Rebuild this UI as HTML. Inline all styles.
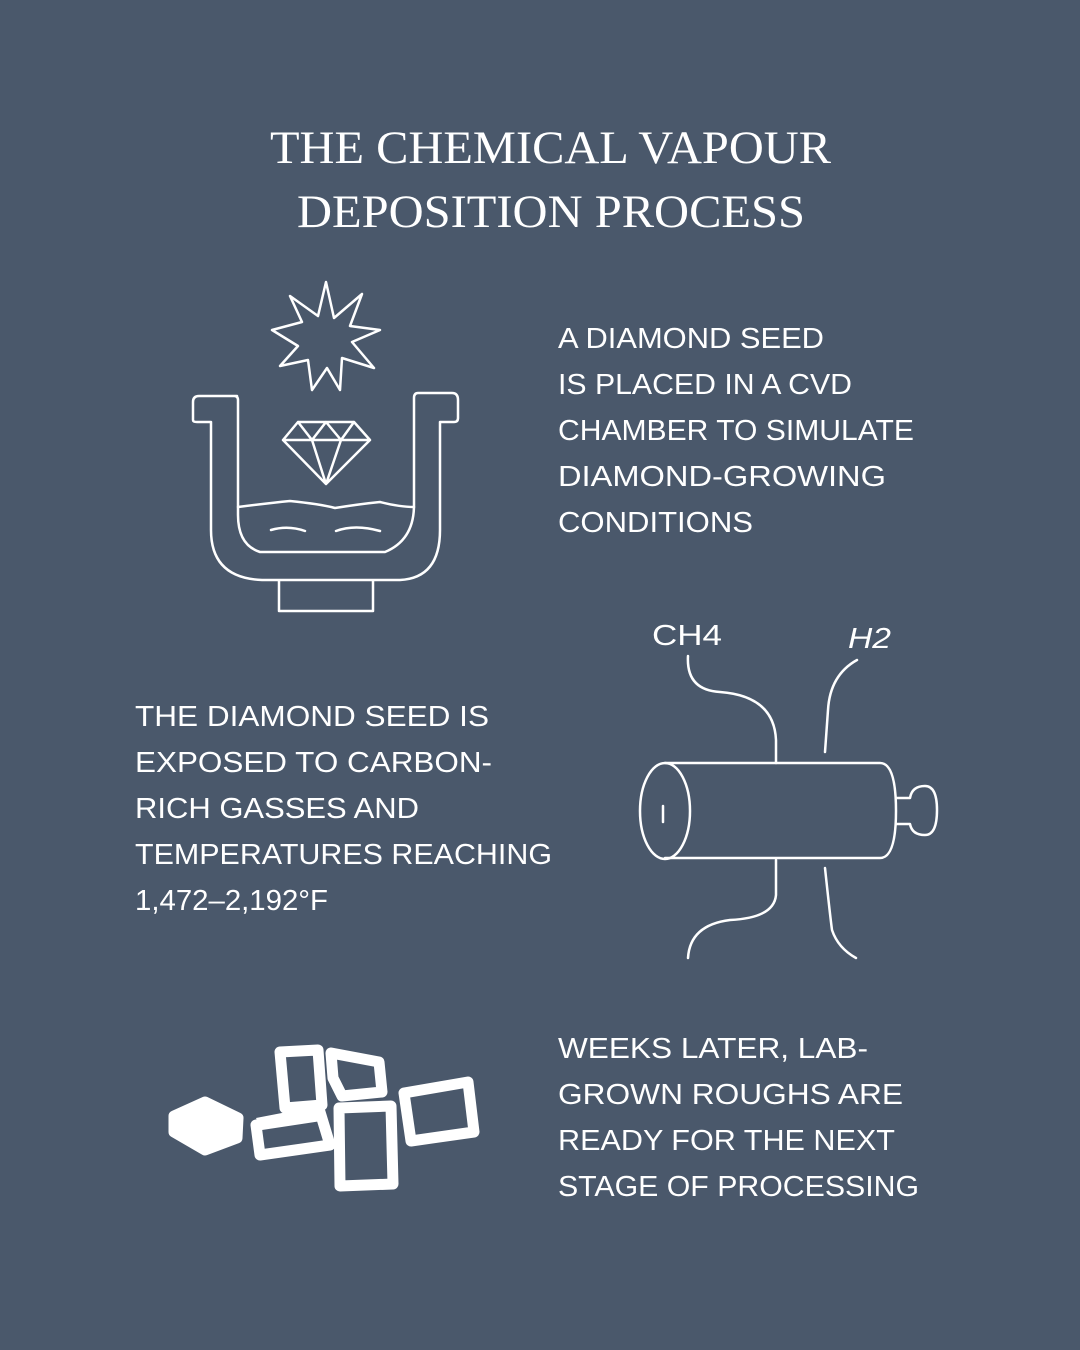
<!DOCTYPE html>
<html><head><meta charset="utf-8"><style>
html,body{margin:0;padding:0;background:#4a586b;}
svg{display:block}
</style></head><body>
<svg width="1080" height="1350" viewBox="0 0 1080 1350" xmlns="http://www.w3.org/2000/svg">
<rect width="1080" height="1350" fill="#4a586b"/>
<g fill="#fff" font-family="Liberation Serif, serif" font-size="47">
<text x="270" y="163" textLength="561" lengthAdjust="spacingAndGlyphs">THE CHEMICAL VAPOUR</text>
<text x="297" y="227" textLength="508" lengthAdjust="spacingAndGlyphs">DEPOSITION PROCESS</text>
</g>
<g fill="#fff" font-family="Liberation Sans, sans-serif" font-size="29">
<text x="558" y="348" textLength="266" lengthAdjust="spacingAndGlyphs">A DIAMOND SEED</text>
<text x="558" y="394" textLength="294" lengthAdjust="spacingAndGlyphs">IS PLACED IN A CVD</text>
<text x="558" y="440" textLength="356" lengthAdjust="spacingAndGlyphs">CHAMBER TO SIMULATE</text>
<text x="558" y="486" textLength="328" lengthAdjust="spacingAndGlyphs">DIAMOND-GROWING</text>
<text x="558" y="532" textLength="195" lengthAdjust="spacingAndGlyphs">CONDITIONS</text>
<text x="135" y="726" textLength="354" lengthAdjust="spacingAndGlyphs">THE DIAMOND SEED IS</text>
<text x="135" y="772" textLength="357" lengthAdjust="spacingAndGlyphs">EXPOSED TO CARBON-</text>
<text x="135" y="818" textLength="284" lengthAdjust="spacingAndGlyphs">RICH GASSES AND</text>
<text x="135" y="864" textLength="417" lengthAdjust="spacingAndGlyphs">TEMPERATURES REACHING</text>
<text x="135" y="910" textLength="193" lengthAdjust="spacingAndGlyphs">1,472–2,192°F</text>
<text x="558" y="1058" textLength="310" lengthAdjust="spacingAndGlyphs">WEEKS LATER, LAB-</text>
<text x="558" y="1104" textLength="345" lengthAdjust="spacingAndGlyphs">GROWN ROUGHS ARE</text>
<text x="558" y="1150" textLength="337" lengthAdjust="spacingAndGlyphs">READY FOR THE NEXT</text>
<text x="558" y="1196" textLength="361" lengthAdjust="spacingAndGlyphs">STAGE OF PROCESSING</text>
<text x="652" y="645" textLength="70" lengthAdjust="spacingAndGlyphs">CH4</text>
<text x="848" y="648" font-style="italic" textLength="43" lengthAdjust="spacingAndGlyphs">H2</text>
</g>
<g fill="none" stroke="#fff" stroke-width="2.5" stroke-linejoin="round" stroke-linecap="round">
<!-- star -->
<path d="M326,282 L334,318 L362,294 L350,326 L380,330 L352,342 L374,368 L342,358 L340,390 L327,368 L312,390 L308,360 L280,366 L298,346 L272,330 L302,322 L290,296 L318,316 Z"/>
<!-- diamond -->
<path d="M283,440 L298,422 L354,422 L370,440 L326,484 Z M283,440 L370,440 M298,422 L312,440 L326,422 L341,440 L354,422 M312,440 L326,484 L341,440"/>
<!-- chamber -->
<path d="M237,396 L199,396 Q193,396 193,402 L193,420 Q193,422 197,422 L211,422 L211,530 Q211,578 262,580 L400,580 Q440,578 440,530 L440,422 L454,422 Q458,422 458,418 L458,400 Q458,393 452,393 L418,393 Q414,393 414,398 L414,505 Q414,540 385,552 L260,552 Q238,545 238,515 L238,400 Q238,396 234,396"/>
<path d="M238,507 Q270,503 290,501 Q320,504 335,508 Q360,504 380,502 Q400,507 414,507"/>
<path d="M271,530 Q288,525 305,531 M336,531 Q355,524 380,531"/>
<path d="M279,581 L279,611 L373,611 L373,581"/>
<!-- tube -->
<path d="M665,763 L880,763 Q896,763 896,811 Q896,858 880,858 L665,858"/>
<ellipse cx="665" cy="811" rx="25" ry="48"/>
<path d="M663,806 L663,822"/>
<path d="M896,798 L910,798 Q912,786 925,786 Q937,786 937,810 Q937,835 925,835 Q912,835 910,824 L896,824"/>
<path d="M688,656 Q686,690 720,692 Q774,696 776,740 L776,763"/>
<path d="M857,660 Q830,675 828,710 L825,752"/>
<path d="M776,860 L776,895 Q774,918 730,920 Q690,925 688,958"/>
<path d="M825,868 Q830,915 832,930 Q838,948 856,958"/>
</g>
<!-- rough cubes -->
<g fill="none" stroke="#fff" stroke-width="11" stroke-linejoin="round">
<path d="M174,1116 L205,1102 L238,1118 L237,1138 L205,1150 L174,1132 Z" fill="#fff"/>
<path d="M280,1052 L318,1050 L322,1105 L285,1108 Z"/>
<path d="M331,1053 L379,1062 L382,1092 L342,1096 L333,1078 Z"/>
<path d="M256,1125 L320,1112 L330,1145 L260,1155 Z"/>
<path d="M339,1108 L391,1106 L393,1184 L340,1186 Z"/>
<path d="M404,1093 L468,1082 L474,1132 L411,1141 Z"/>
</g>
<path d="M256,1118 L318,1106 L328,1120 L262,1130 Z" fill="#fff"/>
</svg>
</body></html>
